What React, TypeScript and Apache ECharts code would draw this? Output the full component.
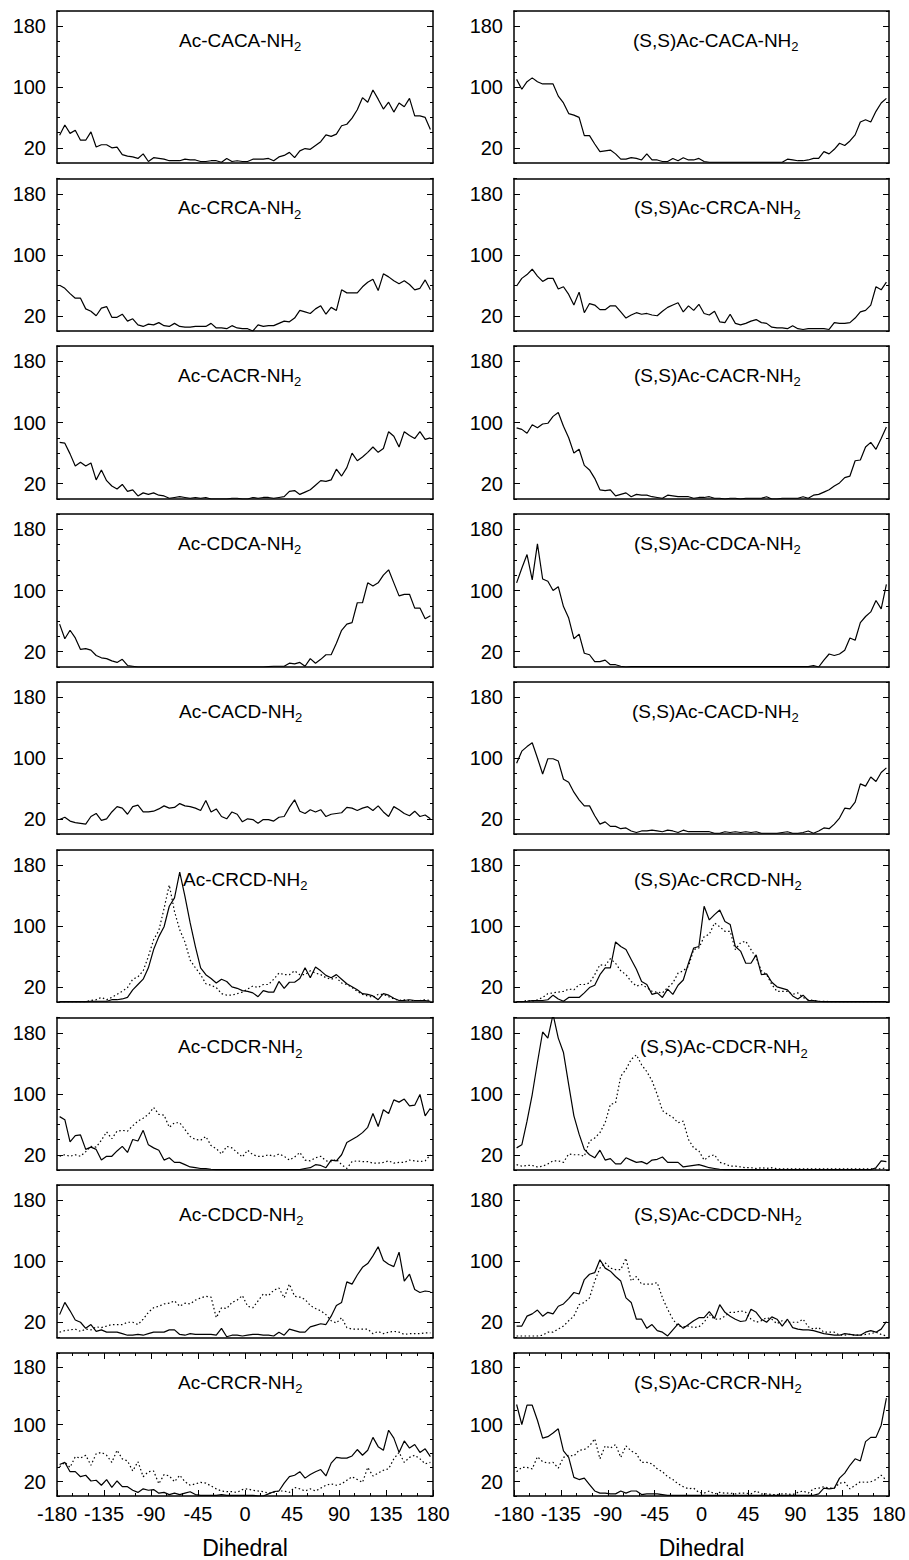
import React, { useEffect, useRef } from "react";
import * as echarts from "echarts";

// Dihedral bin centres (degrees)
const dihedral = [
  -177.5, -172.5, -167.5, -162.5, -157.5, -152.5, -147.5, -142.5, -137.5, -132.5,
  -127.5, -122.5, -117.5, -112.5, -107.5, -102.5, -97.5, -92.5, -87.5, -82.5,
  -77.5, -72.5, -67.5, -62.5, -57.5, -52.5, -47.5, -42.5, -37.5, -32.5,
  -27.5, -22.5, -17.5, -12.5, -7.5, -2.5, 2.5, 7.5, 12.5, 17.5,
  22.5, 27.5, 32.5, 37.5, 42.5, 47.5, 52.5, 57.5, 62.5, 67.5,
  72.5, 77.5, 82.5, 87.5, 92.5, 97.5, 102.5, 107.5, 112.5, 117.5,
  122.5, 127.5, 132.5, 137.5, 142.5, 147.5, 152.5, 157.5, 162.5, 167.5,
  172.5, 177.5,
];

const xTickLabels = [-180, -135, -90, -45, 0, 45, 90, 135, 180];
const yTickLabels = [20, 100, 180];

// ---- left column ----
const acCACA = [36.5,50,39,43,30,30,41,21,24,24, 20,21,11,9,8,6,12,2,7,6, 5,3,3,3,5,4,4,2,2,3, 3,1,6,2,3,2,2,5,5,5, 6,3,8,10,14,7,16,19,18,23, 28,37,35,38,49,51,59,70,86,80, 96,84,71,80,67,79,74,85,62,62, 60,44];
const acCRCA = [60,56,49,43,43,29,26,20,30,32, 18,18,22,13,16,8,6,9,8,11, 7,6,10,6,5,5,6,6,6,10, 4,4,3,7,4,3,3,0,8,6, 7,7,10,13,12,17,27,25,23,29, 33,22,31,27,54,50,50,50,58,64, 68,53,75,71,66,62,66,61,54,56, 67,54];
const acCACR = [74,73,59,43,48,43,47,25,38,24, 17,13,19,10,12,4,8,6,8,5, 4,1,2,3,2,1,2,1,2,0, 0,0,0,1,1,0,0,2,1,2, 2,1,2,3,10,11,6,9,12,18, 24,23,25,39,30,41,60,50,55,61, 68,61,66,88,82,68,88,83,79,88, 78,80];
const acCDCA = [56,37,48,38,23,24,22,15,12,11, 8,6,10,2,1,0,0,0,0,0, 0,0,0,0,0,0,0,0,0,0, 0,0,0,0,0,0,0,0,0,0, 0.5,1,1,1,5,4,6,1,11,5, 10,16,16,31,48,56,58,84,84,110, 106,110,120,127,110,93,95,95,77,77, 63,67];
const acCACD = [19,22,17,15,14,13,23,27,18,20, 29,36,34,26,36,38,29,29,30,33, 37,34,35,40,37,36,34,31,44,29, 33,23,20,29,26,16,20,19,14,19, 19,17,22,23,35,45,30,27,32,29, 32,23,26,27,28,35,34,31,34,36, 31,37,29,23,36,32,27,24,30,23, 25,20];
const acCRCD = [0.5,0.5,0.5,0.5,0.5,0.5,1,1,1,1, 3,3,4,6,16,23,30,45,69,86, 99,126,137,171,139,104,73,45,36,31, 25,30,27,20,18,15,14,12,7,15, 13,13,27,18,26,26,31,45,32,46, 41,35,32,36,30,24,20,16,11,10, 8,3,11,9,5,2,2,3,2,2, 2,1];
const acCRCDdot = [0.5,0.5,0.5,0.5,0.5,0.5,2,3,6,3, 6,10,14,19,30,33,41,60,82,94, 123,154,119,95,79,55,45,36,24,22, 19,11,9,9,11,13,17,21,19,23, 23,30,38,36,36,41,36,36,41,38, 36,32,30,32,25,23,19,14,10,8, 6,10,10,7,4,2,3,2,2,2, 3,2];
const acCDCR = [70,66,37,45,46,27,30,27,13,18, 18,25,31,23,40,38,52,33,29,26, 13,16,10,10,7,4,3,2,2,1, 0.5,0.5,0.5,0.5,0.5,0.5,0.5,0.5,0.5,0.5, 0.5,0.5,0.5,0.5,0.5,0.5,0.5,2,3,7, 6,3,13,12,20,36,40,44,49,56, 74,57,79,74,92,89,93,84,85,99, 71,81];
const acCDCRdot = [18,20,18,20,18,24,31,30,39,50, 41,51,52,51,58,64,68,73,82,73, 72,56,62,62,53,44,40,39,44,32, 28,21,31,29,23,17,26,20,18,18, 20,18,21,18,13,17,23,13,12,16, 18,12,11,14,7,2,11,12,11,11, 9,9,10,12,9,10,10,13,12,11, 12,20];
const acCDCD = [30,46,35,23,20,12,17,8,10,7, 7,7,5,3,3,4,3,5,7,7, 7,10,10,4,3,5,4,4,4,4, 3,12,1,3,3,2,3,4,4,3, 3,2,7,3,11,9,7,7,14,16, 18,17,28,42,46,73,70,82,92,97, 107,119,101,96,93,112,74,83,63,59, 61,60];
const acCDCDdot = [7,9,10,11,8,11,10,14,13,15, 17,17,17,20,20,17,24,33,39,41, 44,45,48,41,45,44,49,52,54,53, 26,39,38,46,49,55,41,39,48,57, 55,62,65,52,70,54,53,50,42,38, 35,30,22,19,26,13,11,11,11,11, 5,8,5,7,8,7,4,5,5,5, 6,6];
const acCRCR = [44,47,34,34,27,29,21,22,15,23, 12,21,13,13,8,5,10,8,9,4, 5,2,4,2,4,6,2,1,1,1, 1,2,1,1,1,1,1,1,0,0, 3,6,7,18,27,29,34,25,30,34, 37,28,46,54,53,53,56,65,57,64, 82,69,64,92,81,61,77,67,72,61, 66,55];
const acCRCRdot = [41,47,40,55,53,57,43,59,61,57, 47,64,52,49,35,48,27,34,35,17, 30,28,20,29,20,15,17,19,18,14, 10,7,6,6,5,9,10,8,7,6, 4,5,7,7,5,12,10,7,10,7, 11,15,17,15,17,22,27,23,19,40, 28,32,36,38,52,61,47,54,57,52, 45,47];

// ---- right column: (S,S) ----
const ssCACA = [110,97,107,112,107,104,104,104,88,79, 65,63,60,36,36,25,15,16,17,12, 5,5,7,6,4,12,4,4,2,2, 6,3,7,4,4,6,2,1,1,1, 1,1,1,1,1,1,1,1,1,1, 1,1,5,4,3,3,4,6,6,15, 12,18,26,23,29,37,54,57,54,68, 79,85];
const ssCRCA = [59,69,74,81,72,65,69,69,55,58, 48,34,51,24,36,34,28,28,33,33, 25,17,21,24,22,23,21,20,26,31, 34,37,25,33,27,35,23,21,26,12, 11,22,10,8,10,13,15,11,10,5, 4,4,3,7,3,2,3,3,3,3, 2,11,10,10,11,17,25,27,34,58, 54,64];
const ssCACR = [93,91,86,97,93,98,99,108,113,95, 80,60,65,44,38,27,12,11,12,4, 6,8,3,6,5,5,3,2,1,5, 4,3,3,3,1,2,2,3,1,1, 0,1,1,0,1,1,1,1,3,0, 0,1,1,1,1,3,1,5,6,9, 12,17,21,28,30,50,51,68,74,65, 79,94];
const ssCDCA = [110,129,147,114,161,115,112,100,105,79, 64,37,43,18,16,7,7,9,3,3, 1,0,0.5,0.5,0.5,0.5,0.5,0.5,0.5,0.5, 0.5,0.5,0.5,0.5,0.5,0.5,0.5,0.5,0.5,0.5, 0.5,0.5,0.5,0.5,0.5,0.5,0.5,0.5,0.5,0.5, 0.5,0.5,0.5,0.5,0.5,0.5,0.5,2,0,9, 17,15,17,22,38,35,58,66,72,87, 76,108];
const ssCACD = [93,109,115,120,100,79,99,99,96,72, 68,55,45,37,37,24,13,16,10,10, 7,8,4,2,4,4,5,4,3,5, 4,2,5,3,3,3,3,3,1,1, 3,2,3,2,3,2,3,1,1,1, 1,2,3,1,1,2,4,1,4,8, 7,13,21,34,33,42,66,63,75,69, 81,87];
const ssCRCD = [0.5,0.5,1,2,2,2,3,9,4,1, 6,6,6,12,19,22,36,45,45,79, 73,69,56,43,27,23,10,12,6,17, 10,22,29,51,71,73,126,108,115,121, 106,102,73,67,51,51,62,36,37,26, 20,18,16,8,4,9,2,2,1,0.5, 0.5,0.5,0.5,0.5,0.5,0.5,0.5,0.5,0.5,0.5, 0.5,0.5];
const ssCRCDdot = [0.5,0.5,2,1,3,6,11,12,13,14, 17,16,23,23,25,36,49,48,57,51, 41,36,27,21,23,19,14,13,12,19, 25,38,41,47,69,71,86,89,104,99, 93,93,69,78,80,69,58,41,36,23, 14,14,14,10,12,6,3,2,1,1, 0.5,0.5,0.5,0.5,0.5,0.5,0.5,0.5,0.5,0.5, 0.5,0.5];
const ssCDCR = [29,33,64,99,141,181,173,204,173,154, 112,71,47,27,20,16,26,13,15,8, 8,16,13,10,11,8,13,14,17,10, 10,10,4,5,6,7,5,3,2,1, 0.5,0.5,0.5,0.5,0.5,0.5,0.5,0.5,0.5,0.5, 0.5,0.5,0.5,0.5,0.5,0.5,0.5,0.5,0.5,0.5, 0.5,0.5,0.5,0.5,0.5,0.5,0.5,0.5,0.5,3, 12,11];
const ssCDCRdot = [7,5,6,6,4,5,8,12,12,10, 21,20,20,18,38,42,49,62,86,88, 123,132,145,151,138,129,117,99,78,73, 69,62,64,40,29,25,13,18,20,10, 8,5,5,4,3,3,2,3,2,3, 1.5,1.5,1.5,1.5,1.5,1.5,1.5,1.5,1.5,1.5, 1.5,1.5,1.5,1.5,1.5,1.5,1.5,1.5,1.5,1.5, 1.5,3];
const ssCDCD = [15,15,28,31,36,28,33,31,41,44, 51,59,57,76,83,85,102,91,87,80, 74,52,46,24,24,12,17,9,7,2, 10,18,12,17,22,26,26,34,25,43, 33,28,24,21,22,37,33,24,20,27, 24,15,24,13,11,10,10,9,7,5, 4,3,3,5,4,3,3,7,9,7, 11,21];
const ssCDCDdot = [2,2,2,2,2,3,7,7,11,15, 22,28,43,46,52,74,91,98,91,89, 89,104,74,80,70,70,70,72,52,37, 24,15,14,15,13,14,20,30,24,24, 28,33,33,35,33,24,20,22,26,24, 18,22,20,20,20,24,14,11,13,7, 7,7,3,3,4,3,3,4,5,7, 4,2];
const ssCRCR = [128,100,127,127,106,81,83,88,94,63, 54,26,23,25,16,7,4,4,3,3, 7,4,7,7,2,3,3,3,2,1, 1,1,1,1,1,1,1,1,1,1, 1,1,1,1,1,1,1,1,1,1, 1,1,1,1,1,1,1,1,3,11, 10,11,25,32,43,52,49,76,82,82, 99,137];
const ssCRCRdot = [34,40,40,38,55,48,46,47,39,54, 57,56,64,65,70,80,52,70,67,72, 54,70,63,59,47,47,45,38,34,27, 23,17,13,10,11,5,4,7,3,5, 4,4,3,4,4,3,7,3,3,2, 2,3,3,2,5,7,4,10,11,13, 11,11,18,19,10,15,20,19,20,23, 29,22];

const panels = [
  { name: "Ac-CACA-NH", col: 0, row: 0, solid: acCACA },
  { name: "Ac-CRCA-NH", col: 0, row: 1, solid: acCRCA },
  { name: "Ac-CACR-NH", col: 0, row: 2, solid: acCACR },
  { name: "Ac-CDCA-NH", col: 0, row: 3, solid: acCDCA },
  { name: "Ac-CACD-NH", col: 0, row: 4, solid: acCACD },
  { name: "Ac-CRCD-NH", col: 0, row: 5, solid: acCRCD, dotted: acCRCDdot },
  { name: "Ac-CDCR-NH", col: 0, row: 6, solid: acCDCR, dotted: acCDCRdot },
  { name: "Ac-CDCD-NH", col: 0, row: 7, solid: acCDCD, dotted: acCDCDdot },
  { name: "Ac-CRCR-NH", col: 0, row: 8, solid: acCRCR, dotted: acCRCRdot },
  { name: "(S,S)Ac-CACA-NH", col: 1, row: 0, solid: ssCACA },
  { name: "(S,S)Ac-CRCA-NH", col: 1, row: 1, solid: ssCRCA },
  { name: "(S,S)Ac-CACR-NH", col: 1, row: 2, solid: ssCACR },
  { name: "(S,S)Ac-CDCA-NH", col: 1, row: 3, solid: ssCDCA },
  { name: "(S,S)Ac-CACD-NH", col: 1, row: 4, solid: ssCACD },
  { name: "(S,S)Ac-CRCD-NH", col: 1, row: 5, solid: ssCRCD, dotted: ssCRCDdot },
  { name: "(S,S)Ac-CDCR-NH", col: 1, row: 6, solid: ssCDCR, dotted: ssCDCRdot },
  { name: "(S,S)Ac-CDCD-NH", col: 1, row: 7, solid: ssCDCD, dotted: ssCDCDdot },
  { name: "(S,S)Ac-CRCR-NH", col: 1, row: 8, solid: ssCRCR, dotted: ssCRCRdot },
];

// ---- layout (pixels) ----
const colLeft = [57, 514];
const colWidth = [376, 375];
const rowTop = [11, 178.5, 346, 514, 682, 850, 1017.5, 1185, 1353];
const rowHeight = [152, 152.5, 153, 153, 152, 152, 152.5, 152.5, 148.5];
const titleDx = [
  [122, 121, 121, 121, 122, 126, 121, 122, 121],
  [119, 120, 120, 120, 118, 120, 126, 120, 120],
];

const FONT = '"Liberation Sans", Arial, Helvetica, sans-serif';
const BLACK = "#000";

function buildOption() {
  const grid: any[] = [];
  const xAxis: any[] = [];
  const yAxis: any[] = [];
  const series: any[] = [];
  const title: any[] = [];
  const lastRow = 8;

  panels.forEach((p, k) => {
    const isLast = p.row === lastRow;
    grid.push({
      left: colLeft[p.col],
      top: rowTop[p.row],
      width: colWidth[p.col],
      height: rowHeight[p.row],
      containLabel: false,
    });
    const xBase = {
      gridIndex: k,
      type: "value",
      min: -180,
      max: 180,
      splitLine: { show: false },
      axisLabel: { show: false },
    };
    // bottom minor (with frame line)
    xAxis.push({
      ...xBase,
      position: "bottom",
      interval: 15,
      axisLine: { show: true, onZero: false, lineStyle: { color: BLACK, width: 1.5 } },
      axisTick: { show: isLast, inside: true, length: 3, lineStyle: { color: BLACK, width: 1 } },
    });
    // bottom major
    xAxis.push({
      ...xBase,
      position: "bottom",
      interval: 45,
      axisLine: { show: false, onZero: false },
      axisTick: { show: isLast, inside: true, length: 6, lineStyle: { color: BLACK, width: 1 } },
      axisLabel: isLast
        ? {
            show: true,
            color: BLACK,
            fontSize: 20,
            fontFamily: FONT,
            margin: 8,
            showMinLabel: true,
            showMaxLabel: true,
            formatter: (v: number) => (xTickLabels.includes(v) ? String(v) : ""),
          }
        : { show: false },
      name: isLast ? "Dihedral" : "",
      nameLocation: "middle",
      nameGap: 40,
      nameTextStyle: { color: BLACK, fontSize: 23, fontFamily: FONT },
    });
    // top minor
    xAxis.push({
      ...xBase,
      position: "top",
      interval: 15,
      axisLine: { show: true, onZero: false, lineStyle: { color: BLACK, width: 1.5 } },
      axisTick: { show: isLast, inside: true, length: 3, lineStyle: { color: BLACK, width: 1 } },
    });
    // top major
    xAxis.push({
      ...xBase,
      position: "top",
      interval: 45,
      axisLine: { show: false, onZero: false },
      axisTick: { show: isLast, inside: true, length: 6, lineStyle: { color: BLACK, width: 1 } },
    });

    const yBase = {
      gridIndex: k,
      type: "value",
      min: 0,
      max: 200,
      splitLine: { show: false },
      axisLabel: { show: false },
    };
    // left major with labels (series axis)
    yAxis.push({
      ...yBase,
      position: "left",
      axisLine: { show: true, onZero: false, lineStyle: { color: BLACK, width: 1.5 } },
      axisTick: { show: true, inside: true, length: 6, customValues: yTickLabels, lineStyle: { color: BLACK, width: 1 } },
      axisLabel: {
        show: true,
        customValues: yTickLabels,
        color: BLACK,
        fontSize: 20,
        fontFamily: FONT,
        margin: 11,
      },
    });
    // left minor
    yAxis.push({
      ...yBase,
      position: "left",
      interval: 20,
      axisLine: { show: false, onZero: false },
      axisTick: { show: true, inside: true, length: 3, lineStyle: { color: BLACK, width: 1 } },
    });
    // right major
    yAxis.push({
      ...yBase,
      position: "right",
      axisLine: { show: true, onZero: false, lineStyle: { color: BLACK, width: 1.5 } },
      axisTick: { show: true, inside: true, length: 6, customValues: yTickLabels, lineStyle: { color: BLACK, width: 1 } },
    });
    // right minor
    yAxis.push({
      ...yBase,
      position: "right",
      interval: 20,
      axisLine: { show: false, onZero: false },
      axisTick: { show: true, inside: true, length: 3, lineStyle: { color: BLACK, width: 1 } },
    });

    series.push({
      type: "line",
      name: p.name + "2",
      xAxisIndex: 4 * k,
      yAxisIndex: 4 * k,
      data: dihedral.map((x, i) => [x, p.solid[i]]),
      showSymbol: false,
      symbol: "none",
      clip: true,
      lineStyle: { color: BLACK, width: 1.2 },
      z: 3,
    });
    if (p.dotted) {
      series.push({
        type: "line",
        name: p.name + "2 (dotted)",
        xAxisIndex: 4 * k,
        yAxisIndex: 4 * k,
        data: dihedral.map((x, i) => [x, (p.dotted as number[])[i]]),
        showSymbol: false,
        symbol: "none",
        clip: true,
        lineStyle: { color: BLACK, width: 1.2, type: [1.5, 2.5] },
        z: 3,
      });
    }

    title.push({
      text: "{a|" + p.name + "}{b|2}",
      left: colLeft[p.col] + titleDx[p.col][p.row],
      top: rowTop[p.row] + 16,
      padding: 0,
      textStyle: {
        fontWeight: "normal",
        rich: {
          a: { fontSize: 19, fontWeight: "normal", fontFamily: FONT, color: BLACK, lineHeight: 26 },
          b: { fontSize: 13, fontWeight: "normal", fontFamily: FONT, color: BLACK, lineHeight: 26, verticalAlign: "bottom" },
        },
      },
    });
  });

  return {
    animation: false,
    backgroundColor: "#fff",
    title,
    grid,
    xAxis,
    yAxis,
    series,
  };
}

export default function App() {
  const ref = useRef<HTMLDivElement>(null);
  useEffect(() => {
    document.body.style.margin = "0";
    if (!ref.current) return;
    const chart = echarts.init(ref.current, null, { renderer: "svg" });
    chart.setOption(buildOption() as any);
    return () => chart.dispose();
  }, []);
  return <div ref={ref} style={{ width: 909, height: 1560 }} />;
}
